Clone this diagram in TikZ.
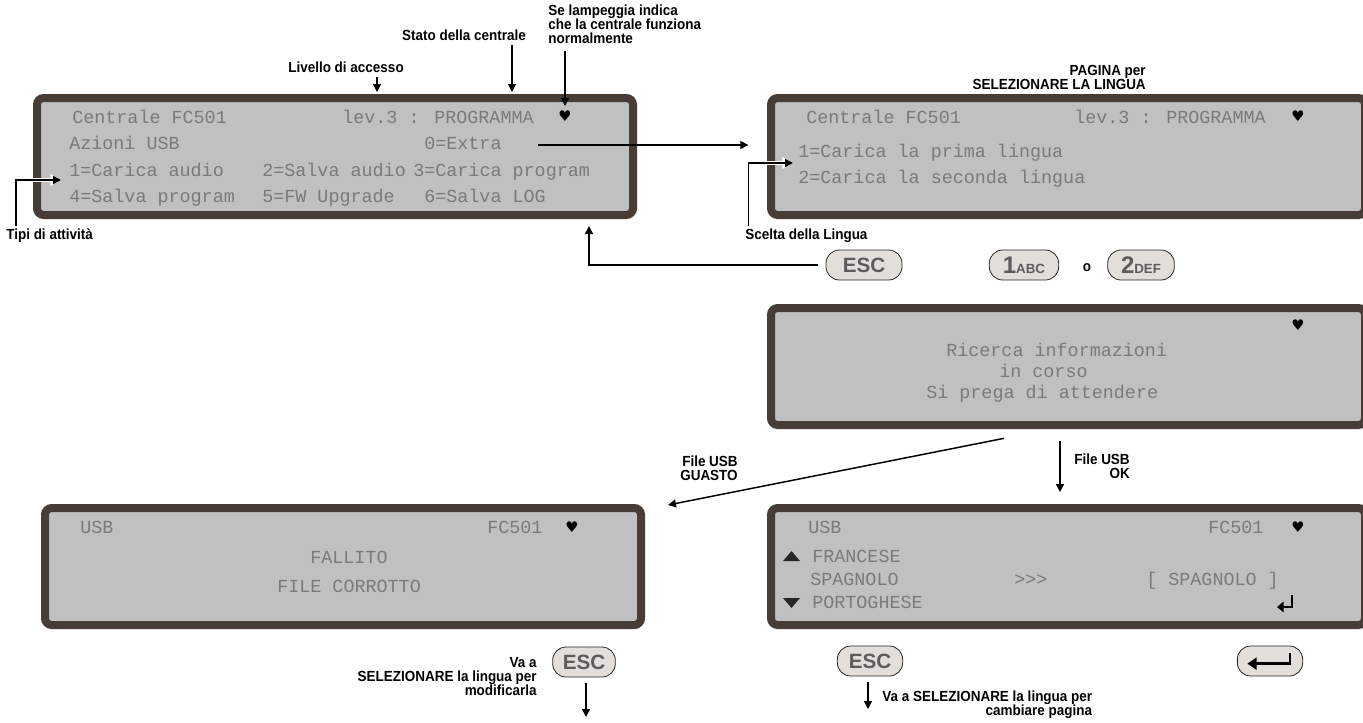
\documentclass[tikz,border=0pt]{standalone}
\usepackage{fontspec}
\setmainfont{Liberation Sans}
\newfontfamily\lblfont[FakeStretch=0.92]{Liberation Sans}
\newfontfamily\lcdfont{Liberation Mono}
\newfontfamily\symfont{DejaVu Sans}
\usetikzlibrary{arrows.meta,positioning}

\definecolor{framebrown}{HTML}{473D36}
\definecolor{lcdbg}{HTML}{C0C0C0}
\definecolor{lcdtext}{HTML}{7A7A7A}
\definecolor{keyfill}{HTML}{E2DFDA}
\definecolor{keytext}{HTML}{5C5C5C}

\tikzset{
  screen/.style={draw=framebrown, fill=lcdbg, line width=6pt, rounded corners=5pt, inner sep=0pt},
  lcd/.style={font=\lcdfont\fontsize{13.8}{14}\selectfont, text=lcdtext, anchor=base west, inner sep=0pt},
  lbl/.style={font=\lblfont\bfseries\fontsize{11}{10.5}\selectfont, inner sep=0pt},
  blinkdot/.style={font=\symfont\fontsize{11}{11}\selectfont, inner sep=0pt},
  key/.style={draw=black!85, fill=keyfill, line width=0.6pt, rounded corners=10pt,
    minimum height=22.5pt, inner sep=0pt, font=\bfseries\fontsize{15.5}{15.5}\selectfont, text=keytext},
  arr/.style={-{Triangle[length=6pt,width=6pt]}, line width=1.1pt},
  halo/.style={draw=white, -{Triangle[length=8pt,width=8.5pt]}, line width=3pt},
}

\begin{document}
\begin{tikzpicture}[x=0.75pt,y=-0.75pt]
\useasboundingbox (0,0) rectangle (1363,722);

% screens
\node[screen, minimum width=447pt, minimum height=87.75pt] (scrMenu) at (335,156.5) {};
\node[screen, minimum width=445.5pt, minimum height=87.75pt] (scrLang) at (1068,156.5) {};
\node[screen, minimum width=445.5pt, minimum height=87.75pt] (scrWait) at (1068,366.5) {};
\node[screen, minimum width=447pt, minimum height=87.75pt] (scrFail) at (343,566.5) {};
\node[screen, minimum width=445.5pt, minimum height=87.75pt] (scrList) at (1068,566.5) {};

% menu screen
\node[lcd] (menuTitle) at (72,123) {Centrale FC501};
\node[lcd] (menuLev) at (342,123) {lev.3 : PROGRAMMA};
\node[blinkdot] (menuDot) at (565,116) {♥};
\node[lcd] (azioni) at (69,149) {Azioni USB};
\node[lcd] (extra) at (424,149) {0=Extra};
\node[lcd] (opt1) at (69,176) {1=Carica audio};
\node[lcd] (opt2) at (262,176) {2=Salva audio};
\node[lcd] (opt3) at (413,176) {3=Carica program};
\node[lcd] (opt4) at (69,202) {4=Salva program};
\node[lcd] (opt5) at (262,202) {5=FW Upgrade};
\node[lcd] (opt6) at (424,202) {6=Salva LOG};

% language screen
\node[lcd] (langTitle) at (806,123) {Centrale FC501};
\node[lcd] (langLev) at (1074,123) {lev.3 : PROGRAMMA};
\node[blinkdot] (langDot) at (1298,116) {♥};
\node[lcd] (lang1) at (798,157) {1=Carica la prima lingua};
\node[lcd] (lang2) at (798,183) {2=Carica la seconda lingua};

% wait screen
\node[blinkdot] (waitDot) at (1298,325) {♥};
\node[lcd] (wait1) at (946,356) {Ricerca informazioni};
\node[lcd] (wait2) at (999,377) {in corso};
\node[lcd] (wait3) at (926,398) {Si prega di attendere};

% fail screen
\node[lcd] (failUsb) at (80,533) {USB};
\node[lcd] (failFc) at (487,533) {FC501};
\node[blinkdot] (failDot) at (572,527) {♥};
\node[lcd] (fail1) at (310,563) {FALLITO};
\node[lcd] (fail2) at (277,592) {FILE CORROTTO};

% list screen
\node[lcd] (listUsb) at (808,533) {USB};
\node[lcd] (listFc) at (1208,533) {FC501};
\node[blinkdot] (listDot) at (1298,527) {♥};
\fill[black!85] (783,561) -- (800,561) -- (791.5,551) -- cycle;
\node[lcd] (fr) at (812,562) {FRANCESE};
\node[lcd] (sp) at (810,585) {SPAGNOLO};
\node[lcd] (go) at (1014,585) {>>>};
\node[lcd] (spSel) at (1146,585) {[ SPAGNOLO ]};
\fill[black!85] (783,598) -- (800,598) -- (791.5,608) -- cycle;
\node[lcd] (pt) at (812,608) {PORTOGHESE};
\draw[line width=2.2pt, -{Triangle[length=5pt,width=8pt]}] (1292,595) |- (1277,607);

% keys
\node[key, minimum width=57pt] (escTop) at (864,265) {ESC};
\node[key, minimum width=52pt] (oneKey) at (1024,265) {{\fontsize{18}{18}\selectfont 1}{\fontsize{10}{10}\selectfont ABC}};
\node[lbl] (orTxt) at (1087,268) {o};
\node[key, minimum width=50pt] (twoKey) at (1141,265) {{\fontsize{18}{18}\selectfont 2}{\fontsize{10}{10}\selectfont DEF}};
\node[key, minimum width=47pt] (escFail) at (584,662) {ESC};
\node[key, minimum width=49pt] (escOk) at (870,661) {ESC};
\node[key, minimum width=49pt] (enterKey) at (1270,661) {};
\draw[line width=1.8pt, -{Triangle[length=7pt,width=9pt]}]
  ([xshift=15pt,yshift=6pt]enterKey.center) |- ([xshift=-17pt,yshift=-2pt]enterKey.center);

% labels
\node[lbl, anchor=north west, align=left] (lblBlink) at (548,5) {Se lampeggia indica\\che la centrale funziona\\normalmente};
\node[lbl] (lblStato) at (464,35) {Stato della centrale};
\node[lbl] (lblLivello) at (346,67) {Livello di accesso};
\node[lbl, anchor=east, align=right] (lblPagina) at (1146,77) {PAGINA per\\SELEZIONARE LA LINGUA};
\node[lbl, anchor=west] (lblTipi) at (6,236) {Tipi di attività};
\node[lbl, anchor=west] (lblScelta) at (745,236) {Scelta della Lingua};
\node[lbl, anchor=east, align=right] (lblGuasto) at (738,468) {File USB\\GUASTO};
\node[lbl, anchor=east, align=right] (lblOk) at (1130,466) {File USB\\OK};
\node[lbl, anchor=east, align=right] (lblFail) at (537,677) {Va a\\SELEZIONARE la lingua per\\modificarla};
\node[lbl, anchor=north west, align=right] (lblOkEsc) at (882,691) {Va a SELEZIONARE la lingua per\\cambiare pagina};

% arrow ends
\coordinate (statoTip) at (512,92);
\coordinate (lvlTip) at (377,92);
\coordinate (blinkTip) at (565,106);
\coordinate (tipiTip) at (61,180);
\coordinate (sceltaTip) at (793,163);
\coordinate (extraOut) at (538,145);
\coordinate (escBack) at (589,226);
\coordinate (failIn) at (668,505);
\coordinate (failDown) at (586,717);
\coordinate (okDown) at (868,709);

% arrows
\draw[arr, shorten <=3pt] (lblStato.south -| statoTip) -- (statoTip);
\draw[arr, shorten <=3pt] (lblLivello.south -| lvlTip) -- (lvlTip);
\draw[arr, shorten <=5pt] (lblBlink.south -| blinkTip) -- (blinkTip);
\draw[halo] ([xshift=7.5pt,yshift=2pt]lblTipi.north west) |- (tipiTip);
\draw[arr] ([xshift=7.5pt,yshift=2pt]lblTipi.north west) |- (tipiTip);
\draw[halo] ([xshift=2.5pt,yshift=2pt]lblScelta.north west) |- (sceltaTip);
\draw[arr] ([xshift=2.5pt,yshift=2pt]lblScelta.north west) |- (sceltaTip);
\draw[arr, shorten >=14pt] (extraOut) -- (extraOut -| scrLang.west);
\draw[arr] ([xshift=-6pt]escTop.west) -| (escBack);
\draw[arr] ([xshift=-48pt,yshift=-7pt]scrWait.south) -- (failIn);
\draw[arr] ([xshift=-6pt,yshift=-9pt]scrWait.south) -- ([xshift=-6pt,yshift=9pt]scrList.north);
\draw[arr] ([xshift=1.5pt,yshift=-4pt]escFail.south) -- (failDown);
\draw[arr] ([xshift=-1.5pt,yshift=-4pt]escOk.south) -- (okDown);
\end{tikzpicture}
\end{document}
